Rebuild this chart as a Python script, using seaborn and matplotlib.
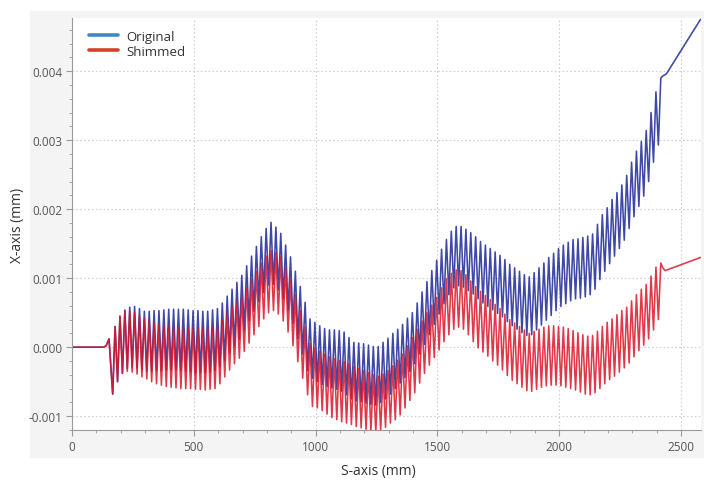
import matplotlib
matplotlib.use("Agg")
import matplotlib.pyplot as plt
from matplotlib.lines import Line2D
from matplotlib.patches import Rectangle
from matplotlib.ticker import MultipleLocator, FormatStrFormatter
import seaborn as sns
import numpy as np
import pandas as pd

# trajectory values in micrometres (1 um = 0.001 mm)
lead_s = [0, 130, 140, 152]
lead_um = [0.0, 0.0, 0.02, 0.12]

# oscillation: troughs start at s=167, extrema every 10 mm (period 20 mm)
osc_start = 167
half_period = 10

orig_peaks = [
    0.30, 0.45, 0.54, 0.58, 0.59, 0.56, 0.52, 0.52, 0.53, 0.53,
    0.54, 0.55, 0.55, 0.55, 0.55, 0.54, 0.53, 0.53, 0.52, 0.52,
    0.54, 0.56, 0.64, 0.74, 0.84, 0.94, 1.04, 1.18, 1.32, 1.46,
    1.60, 1.72, 1.81, 1.74, 1.65, 1.48, 1.31, 1.10, 0.88, 0.65,
    0.41, 0.36, 0.31, 0.27, 0.25, 0.25, 0.24, 0.22, 0.14, 0.07,
    0.06, 0.05, 0.03, 0.01, 0.01, 0.07, 0.13, 0.20, 0.26, 0.33,
    0.42, 0.50, 0.64, 0.80, 0.95, 1.11, 1.26, 1.42, 1.56, 1.68,
    1.75, 1.75, 1.71, 1.66, 1.60, 1.53, 1.48, 1.43, 1.38, 1.33,
    1.27, 1.20, 1.15, 1.10, 1.05, 1.02, 1.08, 1.15, 1.22, 1.30,
    1.36, 1.43, 1.48, 1.52, 1.56, 1.57, 1.59, 1.61, 1.64, 1.78,
    1.92, 2.02, 2.14, 2.24, 2.35, 2.49, 2.68, 2.84, 2.98, 3.14,
    3.40, 3.70, 3.90,
]
orig_troughs = [
    -0.68, -0.50, -0.38, -0.31, -0.29, -0.30, -0.33, -0.35, -0.35, -0.34,
    -0.34, -0.33, -0.33, -0.33, -0.34, -0.35, -0.36, -0.37, -0.37, -0.37,
    -0.36, -0.34, -0.28, -0.19, -0.08, 0.02, 0.12, 0.24, 0.38, 0.52,
    0.66, 0.79, 0.90, 0.91, 0.83, 0.70, 0.53, 0.34, 0.12, -0.10,
    -0.34, -0.45, -0.50, -0.54, -0.57, -0.59, -0.61, -0.64, -0.69, -0.75,
    -0.78, -0.79, -0.81, -0.83, -0.84, -0.80, -0.75, -0.68, -0.60, -0.52,
    -0.44, -0.35, -0.24, -0.10, 0.04, 0.18, 0.33, 0.48, 0.63, 0.76,
    0.86, 0.89, 0.87, 0.82, 0.77, 0.70, 0.64, 0.59, 0.54, 0.49,
    0.44, 0.37, 0.31, 0.26, 0.21, 0.17, 0.18, 0.25, 0.32, 0.39,
    0.46, 0.53, 0.59, 0.63, 0.67, 0.70, 0.71, 0.73, 0.76, 0.84,
    0.98, 1.10, 1.21, 1.32, 1.43, 1.55, 1.72, 1.89, 2.04, 2.19,
    2.40, 2.68, 2.93,
]
shim_peaks = [
    0.30, 0.45, 0.52, 0.52, 0.50, 0.46, 0.42, 0.39, 0.35, 0.33,
    0.31, 0.30, 0.29, 0.28, 0.28, 0.28, 0.28, 0.28, 0.27, 0.27,
    0.28, 0.30, 0.39, 0.49, 0.59, 0.66, 0.74, 0.86, 0.98, 1.10,
    1.22, 1.32, 1.40, 1.37, 1.31, 1.16, 0.99, 0.76, 0.53, 0.29,
    0.05, -0.02, -0.06, -0.10, -0.14, -0.17, -0.19, -0.21, -0.24, -0.28,
    -0.31, -0.34, -0.37, -0.40, -0.42, -0.39, -0.34, -0.27, -0.19, -0.10,
    0.02, 0.14, 0.26, 0.38, 0.50, 0.61, 0.72, 0.86, 0.99, 1.07,
    1.12, 1.11, 1.05, 0.96, 0.88, 0.81, 0.75, 0.69, 0.62, 0.56,
    0.48, 0.40, 0.35, 0.30, 0.25, 0.20, 0.23, 0.26, 0.29, 0.31,
    0.31, 0.30, 0.29, 0.27, 0.24, 0.21, 0.18, 0.16, 0.17, 0.23,
    0.30, 0.36, 0.41, 0.47, 0.53, 0.58, 0.67, 0.76, 0.84, 0.91,
    1.03, 1.16, 1.22,
]
shim_troughs = [
    -0.68, -0.50, -0.38, -0.35, -0.36, -0.39, -0.43, -0.46, -0.50, -0.53,
    -0.55, -0.57, -0.58, -0.59, -0.60, -0.60, -0.60, -0.61, -0.61, -0.62,
    -0.61, -0.60, -0.53, -0.43, -0.33, -0.24, -0.16, -0.06, 0.06, 0.18,
    0.30, 0.41, 0.50, 0.53, 0.48, 0.38, 0.22, 0.02, -0.21, -0.45,
    -0.69, -0.86, -0.88, -0.92, -0.97, -1.02, -1.05, -1.08, -1.10, -1.12,
    -1.15, -1.17, -1.19, -1.21, -1.23, -1.21, -1.16, -1.10, -1.05, -0.98,
    -0.88, -0.77, -0.66, -0.52, -0.38, -0.26, -0.15, -0.04, 0.08, 0.18,
    0.26, 0.29, 0.26, 0.18, 0.08, -0.01, -0.07, -0.13, -0.20, -0.26,
    -0.33, -0.41, -0.48, -0.53, -0.58, -0.63, -0.64, -0.61, -0.58, -0.56,
    -0.55, -0.55, -0.56, -0.58, -0.60, -0.62, -0.65, -0.68, -0.69, -0.66,
    -0.60, -0.53, -0.47, -0.42, -0.36, -0.30, -0.23, -0.14, -0.05, 0.03,
    0.12, 0.25, 0.40,
]

orig_tail_s = [2425, 2440, 2580]
orig_tail_um = [3.93, 3.96, 4.75]
shim_tail_s = [2425, 2435, 2580]
shim_tail_um = [1.15, 1.11, 1.30]

series_names = ["Original", "Shimmed"]
line_colors = ["#1e2896", "#dc1428"]
legend_colors = ["#3f87cb", "#d4412b"]


def build(peaks, troughs, tail_s, tail_um):
    n = len(peaks)
    osc = np.empty(2 * n)
    osc[0::2] = troughs
    osc[1::2] = peaks
    osc_s = osc_start + half_period * np.arange(2 * n)
    s = np.concatenate([lead_s, osc_s, tail_s])
    um = np.concatenate([lead_um, osc, tail_um])
    return s, um / 1000.0


frames = []
for name, pk, tr, ts, tu in [
    ("Original", orig_peaks, orig_troughs, orig_tail_s, orig_tail_um),
    ("Shimmed", shim_peaks, shim_troughs, shim_tail_s, shim_tail_um),
]:
    s, x = build(pk, tr, ts, tu)
    frames.append(pd.DataFrame({"s": s, "x": x, "series": name}))
df = pd.concat(frames, ignore_index=True)

sns.set_style("white")
plt.rcParams["font.family"] = ["Open Sans", "DejaVu Sans"]

W, H = 704, 481
fig = plt.figure(figsize=(W / 100, H / 100), dpi=100)
# light grey panel behind the plot area
fig.add_artist(Rectangle((30 / W, 1 - 458 / H), 674 / W, 446 / H,
                         transform=fig.transFigure, color="#f4f4f4", zorder=-5))
ax = fig.add_axes([72 / W, 1 - 431 / H, 629 / W, 412 / H])
ax.set_zorder(2)
ax.set_facecolor("white")

sns.lineplot(data=df, x="s", y="x", hue="series", palette=dict(zip(series_names, line_colors)),
             sort=False, estimator=None, linewidth=1.15, alpha=0.85, legend=False, ax=ax)

ax.set_xlim(0, 2582)
ax.set_ylim(-0.0012, 0.00477)
ax.xaxis.set_major_locator(MultipleLocator(500))
ax.xaxis.set_minor_locator(MultipleLocator(100))
ax.yaxis.set_major_locator(MultipleLocator(0.001))
ax.yaxis.set_minor_locator(MultipleLocator(0.0002))
ax.yaxis.set_major_formatter(FormatStrFormatter("%.3f"))
ax.grid(True, which="major", linestyle=(0, (1.5, 2)), color="#d0d0d0", linewidth=0.8)
ax.set_axisbelow(True)

for side in ["top", "right"]:
    ax.spines[side].set_visible(False)
for side in ["left", "bottom"]:
    ax.spines[side].set_color("#9a9a9a")
    ax.spines[side].set_linewidth(0.8)
ax.tick_params(which="major", direction="out", length=4, width=0.8, color="#9a9a9a",
               labelsize=8.5, labelcolor="#555555", left=True, bottom=True, pad=3)
ax.tick_params(which="minor", direction="out", length=2.5, width=0.6, color="#9a9a9a",
               left=True, bottom=True)
ax.set_xlabel("")
ax.set_ylabel("")

fig.text(378 / W, 1 - 472 / H, "S-axis (mm)", fontsize=10, color="#333333",
         ha="center", va="center")
fig.text(18 / W, 1 - 225 / H, "X-axis (mm)", fontsize=10, color="#333333",
         ha="center", va="center", rotation=90)

handles = [Line2D([0], [0], color=c, linewidth=2.6) for c in legend_colors]
leg = ax.legend(handles, series_names, loc="upper left", bbox_to_anchor=(0.015, 0.99),
                frameon=False, fontsize=9.5, handlelength=2.2, handletextpad=0.6,
                labelspacing=0.15, borderaxespad=0.2)
for t in leg.get_texts():
    t.set_color("#333333")

fig.savefig("out.png", dpi=100)
